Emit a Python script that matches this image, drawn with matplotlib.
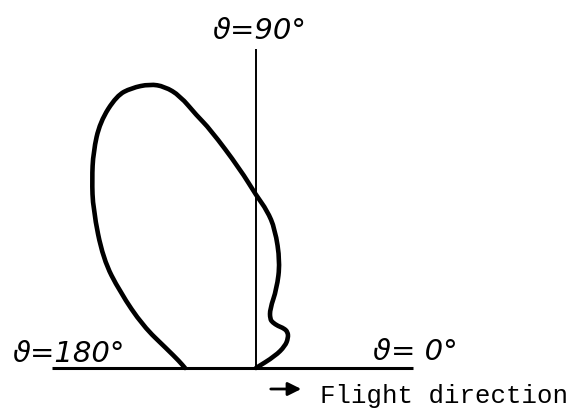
import numpy as np
import matplotlib
matplotlib.use("Agg")
import matplotlib.pyplot as plt
from matplotlib.path import Path
from matplotlib.patches import PathPatch

# Directivity pattern traced as (angle in degrees, radius in arbitrary units)
theta_deg = [30, 32, 37, 43, 48.6, 55, 62.4, 70, 74, 76.7, 75.3, 77.2, 82.2, 86, 89.8,
             94.6, 100.9, 103.2, 105.6, 108, 110.5, 114, 117.1, 122.4, 127, 131,
             135.7, 144.5, 150.8, 159.6, 168, 175, 180]
radius = [0, 22.5, 36.4, 44, 48, 48.5, 47.4, 48.5, 51, 60.6, 81.7, 108.7, 140.3, 158, 172,
          199.6, 243.4, 259.2, 282.7, 296, 303.1, 306.5, 305.9, 291.3, 270.4, 250,
          227.7, 187.9, 155.8, 120.6, 91, 77, 71]

angle_labels = ["ϑ=180°", "ϑ=90°", "ϑ= 0°"]
flight_label = "Flight direction"

fig = plt.figure(figsize=(5.75, 4.14), dpi=100)
ax = fig.add_axes([0, 0, 1, 1])
ax.set_xlim(-256, 319)
ax.set_ylim(-45, 369)
ax.set_aspect("equal")
ax.axis("off")

th = np.radians(theta_deg)
r = np.array(radius)
pts = np.column_stack([r * np.cos(th), r * np.sin(th)])

# smooth the traced outline: quadratic segments through the midpoints
verts = [pts[0], (pts[0] + pts[1]) / 2]
codes = [Path.MOVETO, Path.LINETO]
for i in range(1, len(pts) - 1):
    verts += [pts[i], (pts[i] + pts[i + 1]) / 2]
    codes += [Path.CURVE3, Path.CURVE3]
verts.append(pts[-1])
codes.append(Path.LINETO)
ax.add_patch(PathPatch(Path(verts, codes), facecolor="none", edgecolor="black",
                       lw=3.3, capstyle="round", joinstyle="round"))

# reference axes: horizontal base and the 90 degree line
ax.plot([-204, 157], [0, 0], color="black", lw=2.2, solid_capstyle="butt")
ax.plot([0, 0], [0, 319], color="black", lw=1.4, solid_capstyle="butt")

lab_font = dict(fontsize=21, style="italic", color="black",
                family=["DejaVu Sans"])
ax.text(-243, 7, angle_labels[0], ha="left", va="baseline", **lab_font)
ax.text(-43, 330, angle_labels[1], ha="left", va="baseline", **lab_font)
ax.text(117, 9, angle_labels[2], ha="left", va="baseline", **lab_font)

# flight direction arrow and caption
ax.annotate("", xy=(48, -21), xytext=(12, -21),
            arrowprops=dict(arrowstyle="-|>", color="black", lw=2,
                            mutation_scale=20))
ax.text(64, -34, flight_label, ha="left", va="baseline", fontsize=18.5,
        family=["Liberation Mono", "DejaVu Sans Mono"], color="black")

fig.savefig("out.png", dpi=100)
